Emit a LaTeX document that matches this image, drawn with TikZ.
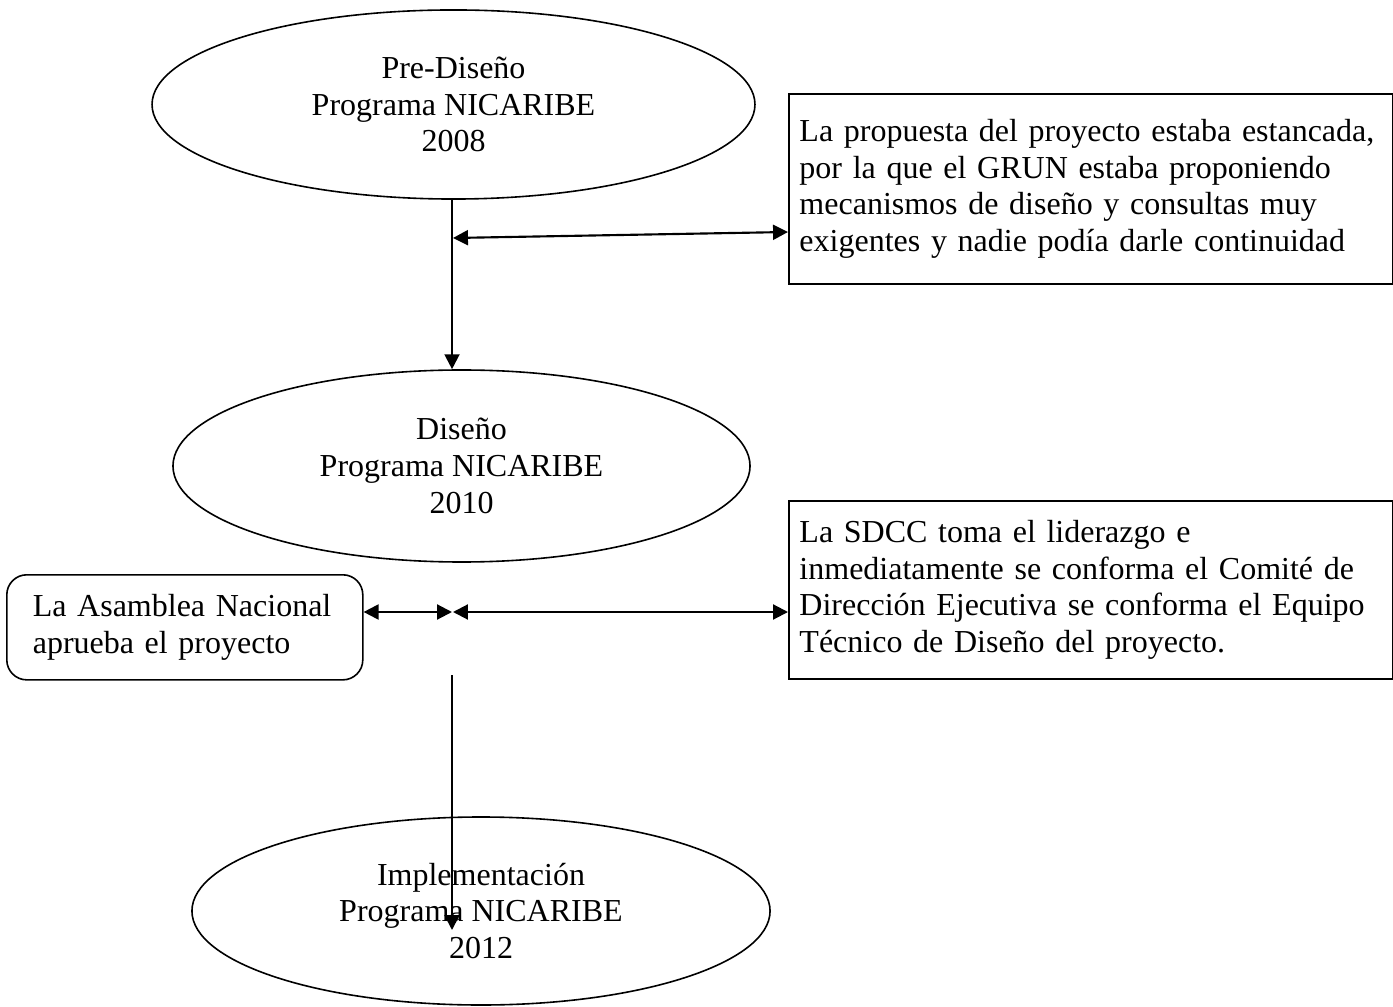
\documentclass[tikz,border=0pt]{standalone}
\usepackage{fontspec}
\setmainfont{Liberation Serif}
\usetikzlibrary{arrows.meta,shapes.geometric}

\begin{document}
\begin{tikzpicture}[x=0.375pt,y=-0.375pt,
        txt/.style={font=\fontsize{12pt}{13.8pt}\selectfont},
        fase/.style={txt,ellipse,draw,line width=0.6pt,inner sep=0pt,align=center},
        nota/.style={txt,rectangle,draw,line width=0.6pt,anchor=north west,inner xsep=4pt,text width=218.5pt,align=left,minimum width=226.5pt},
        flecha/.style={-{Triangle[length=5.6pt,width=5.6pt]},line width=0.8pt},
        doble/.style={{Triangle[length=5.6pt,width=5.6pt]}-{Triangle[length=5.6pt,width=5.6pt]},line width=0.8pt}]
        \useasboundingbox (0,0) rectangle (1393,1007);

        \node[fase,minimum width=226.1pt,minimum height=70.9pt] (pre) at (453.5,104.5) {Pre-Diseño\\Programa NICARIBE\\2008};
        \node[fase,minimum width=216.4pt,minimum height=72pt] (dis) at (461.5,466) {Diseño\\Programa NICARIBE\\2010};
        \node[fase,minimum width=216.8pt,minimum height=70.5pt] (imp) at (481,911) {Implementación\\Programa NICARIBE\\2012};

        \node[nota,minimum height=71.25pt] (prop) at (788,93) {La propuesta del proyecto estaba estancada,\\por la que el GRUN estaba proponiendo\\mecanismos de diseño y consultas muy\\exigentes y nadie podía darle continuidad};
        \node[nota,minimum height=66.75pt] (sdcc) at (788,500) {La SDCC toma el liderazgo e\\inmediatamente se conforma el Comité de\\Dirección Ejecutiva se conforma el Equipo\\Técnico de Diseño del proyecto.};
        \node[txt,draw,line width=0.6pt,rounded corners=7.5pt,anchor=north west,inner xsep=9.75pt,text width=114pt,align=left,minimum width=133.5pt,minimum height=39.4pt] (asam) at (6,574) {La Asamblea Nacional\\aprueba el proyecto};

        \coordinate (eje) at (452,0);
        \coordinate (m1) at (453,238);
        \coordinate (m2l) at (452,612);
        \coordinate (m2r) at (453,612);
        \coordinate (v1) at (452,675);
        \coordinate (v2) at (452,930);

        \draw[flecha] (eje |- pre.south) -- (eje |- dis.north);
        \draw[doble] (m1) -- (prop.west |- 0,232);
        \draw[doble] (asam.east |- m2l) -- (m2l);
        \draw[doble] (m2r) -- (sdcc.west |- m2r);
        \draw[flecha] (v1) -- (v2);
    \end{tikzpicture}
\end{document}
